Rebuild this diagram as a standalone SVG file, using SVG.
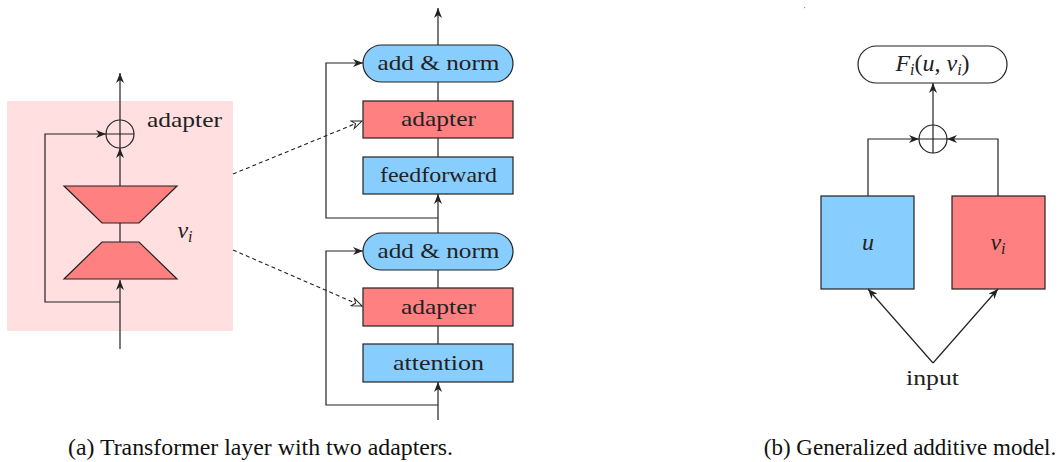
<svg xmlns="http://www.w3.org/2000/svg" width="1060" height="462" viewBox="0 0 1060 462">
<defs>
<marker id="arr" viewBox="0 0 10 8" refX="10" refY="4" markerWidth="11" markerHeight="8" orient="auto" markerUnits="userSpaceOnUse">
<path d="M0,0 L10,4 L0,8 L3,4 z" fill="#222"/>
</marker>
<marker id="oarr" viewBox="-1 -1 12 10" refX="10" refY="4" markerWidth="13" markerHeight="10" orient="auto" markerUnits="userSpaceOnUse">
<path d="M0,0 L10,4 L0,8 L3,4 z" fill="#fff" stroke="#222" stroke-width="1"/>
</marker>
</defs>

<rect x="804" y="7" width="1.2" height="1.2" fill="#999"/>

<g id="adapter-detail">
<rect x="7" y="101" width="226" height="230" fill="#FFDFE0"/>
</g>

<g id="nodes" stroke="#222" stroke-width="1.2">
<g id="down-proj"><polygon fill="#FF8080" points="64,186 177,186 139,223 102,223"/></g>
<g id="up-proj"><polygon fill="#FF8080" points="102,242 139,242 177,279 64,279"/></g>
<g id="plus-left"><circle cx="120" cy="134" r="14" fill="none"/><path fill="none" d="M106,134 H134 M120,120 V148"/></g>
<g id="addnorm2"><rect fill="#87CEFF" x="363" y="45" width="150" height="37" rx="18.5"/></g>
<g id="adapter2"><rect fill="#FF8080" x="363" y="101" width="150" height="37"/></g>
<g id="feedforward"><rect fill="#87CEFF" x="363" y="157" width="150" height="37"/></g>
<g id="addnorm1"><rect fill="#87CEFF" x="363" y="233" width="150" height="37" rx="18.5"/></g>
<g id="adapter1"><rect fill="#FF8080" x="363" y="288" width="150" height="38"/></g>
<g id="attention"><rect fill="#87CEFF" x="363" y="344" width="150" height="38"/></g>
<g id="F-out"><rect fill="#fff" x="858" y="46" width="149" height="37" rx="18.5"/></g>
<g id="plus-right"><circle cx="933" cy="139" r="14" fill="none"/><path fill="none" d="M919,139 H947 M933,125 V153"/></g>
<g id="u-box"><rect fill="#87CEFF" x="821" y="196" width="93" height="93"/></g>
<g id="vi-box"><rect fill="#FF8080" x="952" y="196" width="93" height="93"/></g>
</g>

<g id="labels" fill="#222" text-anchor="middle">
<text x="184.5" y="127" font-family="Liberation Serif" font-size="22" style="font-family:'Liberation Serif' !important" textLength="75" lengthAdjust="spacingAndGlyphs">adapter</text>
<text x="185" y="238" font-family="Liberation Serif" font-size="24" font-style="italic" style="font-family:'Liberation Serif' !important">v<tspan font-size="16" dy="4">i</tspan></text>
<text x="438.5" y="70" font-family="Liberation Serif" font-size="22" style="font-family:'Liberation Serif' !important" textLength="122" lengthAdjust="spacingAndGlyphs">add &amp; norm</text>
<text x="438.5" y="126" font-family="Liberation Serif" font-size="22" style="font-family:'Liberation Serif' !important" textLength="75" lengthAdjust="spacingAndGlyphs">adapter</text>
<text x="438.5" y="182" font-family="Liberation Serif" font-size="22" style="font-family:'Liberation Serif' !important" textLength="117" lengthAdjust="spacingAndGlyphs">feedforward</text>
<text x="438.5" y="258" font-family="Liberation Serif" font-size="22" style="font-family:'Liberation Serif' !important" textLength="122" lengthAdjust="spacingAndGlyphs">add &amp; norm</text>
<text x="438.5" y="313.5" font-family="Liberation Serif" font-size="22" style="font-family:'Liberation Serif' !important" textLength="75" lengthAdjust="spacingAndGlyphs">adapter</text>
<text x="438.5" y="370" font-family="Liberation Serif" font-size="22" style="font-family:'Liberation Serif' !important" textLength="91" lengthAdjust="spacingAndGlyphs">attention</text>
<text x="932.5" y="71" font-family="Liberation Serif" font-size="24" font-style="italic" style="font-family:'Liberation Serif' !important">F<tspan font-size="16" dy="4">i</tspan><tspan font-style="normal" dy="-4">(</tspan>u<tspan font-style="normal">, </tspan>v<tspan font-size="16" dy="4">i</tspan><tspan font-style="normal" dy="-4">)</tspan></text>
<text x="868" y="250" font-family="Liberation Serif" font-size="24" font-style="italic" style="font-family:'Liberation Serif' !important">u</text>
<text x="998" y="250" font-family="Liberation Serif" font-size="24" font-style="italic" style="font-family:'Liberation Serif' !important">v<tspan font-size="16" dy="4">i</tspan></text>
<text x="932.5" y="385" font-family="Liberation Serif" font-size="22" style="font-family:'Liberation Serif' !important" textLength="53" lengthAdjust="spacingAndGlyphs">input</text>
</g>

<g id="connectors" fill="none" stroke="#222" stroke-width="1.2">
<path d="M120,349 V280" marker-end="url(#arr)"/>
<path d="M120,242 V223"/>
<path d="M120,186 V148" marker-end="url(#arr)"/>
<path d="M120,120 V73" marker-end="url(#arr)"/>
<path d="M120,302 H45 V134 H106" marker-end="url(#arr)"/>
<path d="M233,174 L362,121" stroke-width="1.1" stroke-dasharray="4 3" marker-end="url(#oarr)"/>
<path d="M233,250 L362,306" stroke-width="1.1" stroke-dasharray="4 3" marker-end="url(#oarr)"/>
<path d="M438,420 V382" marker-end="url(#arr)"/>
<path d="M438,344 V326"/>
<path d="M438,288 V270"/>
<path d="M438,233 V194" marker-end="url(#arr)"/>
<path d="M438,157 V138"/>
<path d="M438,101 V82"/>
<path d="M438,45 V8" marker-end="url(#arr)"/>
<path d="M438,405 H326 V251 H363" marker-end="url(#arr)"/>
<path d="M438,218 H326 V63 H363" marker-end="url(#arr)"/>
<path d="M933,125 V83" marker-end="url(#arr)"/>
<path d="M868,196 V139 H919" marker-end="url(#arr)"/>
<path d="M998,196 V139 H947" marker-end="url(#arr)"/>
<path d="M933,363 L868,289" marker-end="url(#arr)"/>
<path d="M933,363 L998,289" marker-end="url(#arr)"/>
</g>

<g id="captions" fill="#111" text-anchor="middle">
<text x="260.5" y="455" font-family="Liberation Serif" font-size="23" style="font-family:'Liberation Serif' !important" textLength="385" lengthAdjust="spacingAndGlyphs">(a) Transformer layer with two adapters.</text>
<text x="910" y="455" font-family="Liberation Serif" font-size="23" style="font-family:'Liberation Serif' !important">(b) Generalized additive model.</text>
</g>
</svg>
